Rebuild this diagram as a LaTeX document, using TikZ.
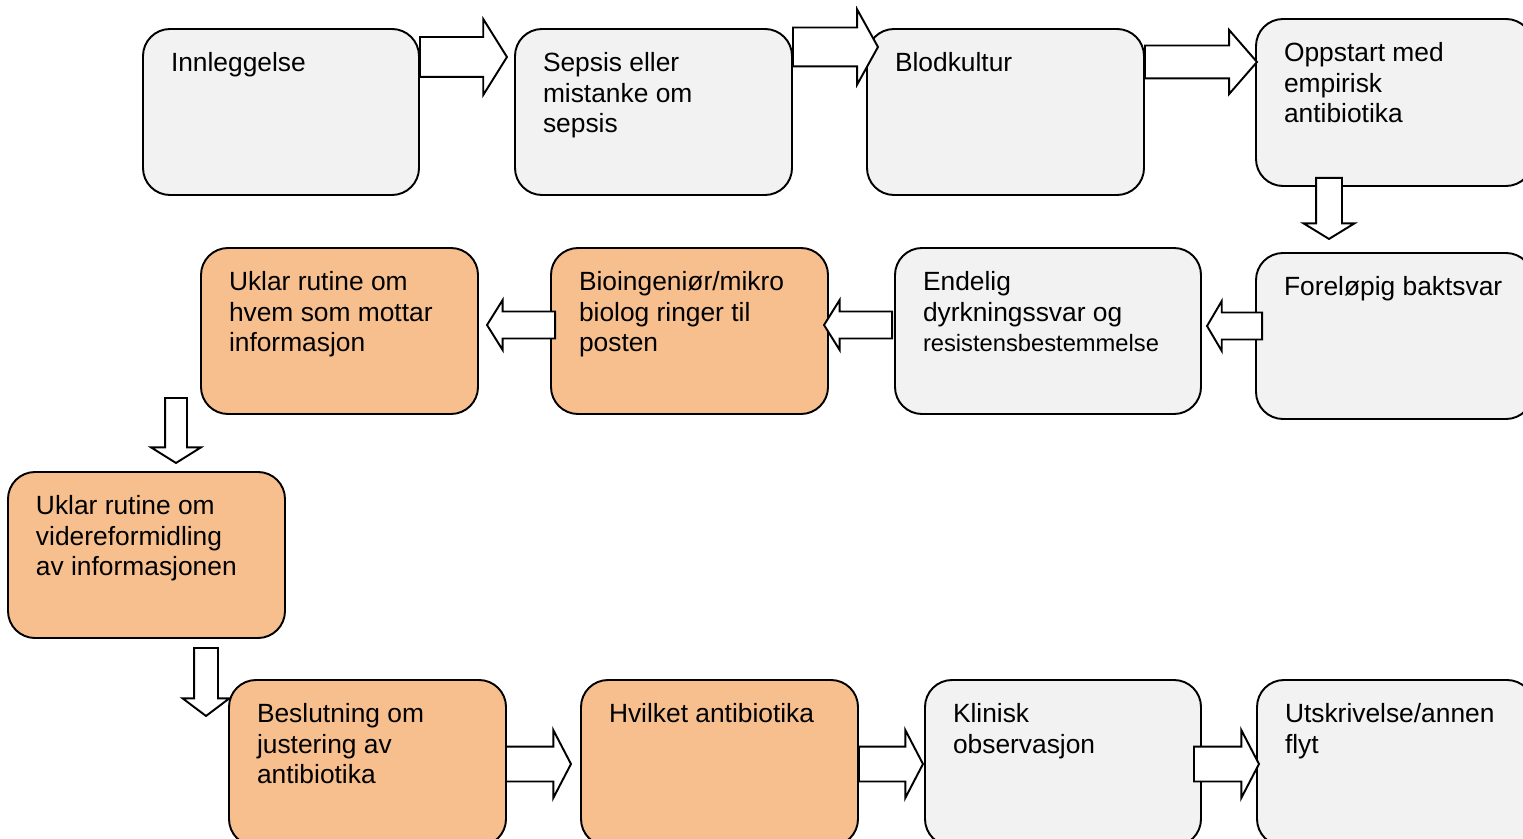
\documentclass[tikz,border=0pt]{standalone}
\usepackage{fontspec}
\setmainfont{Liberation Sans}
\usetikzlibrary{shapes.arrows,positioning}
\definecolor{boxgray}{HTML}{F2F2F2}
\definecolor{boxorange}{HTML}{F8BF8E}

\begin{document}
\begin{tikzpicture}[line width=1.1pt,
    stepbox/.style={draw, rounded corners=0.54cm, minimum width=5.54cm, minimum height=3.32cm, inner sep=0pt},
    greybox/.style={stepbox, fill=boxgray},
    orangebox/.style={stepbox, fill=boxorange},
    boxtext/.style={inner sep=0pt, align=left, font=\fontsize{15}{17.6}\selectfont},
    blockarrow/.style={draw, fill=white, single arrow, inner xsep=0pt, anchor=tail, line join=miter}]

        \useasboundingbox (0,0) rectangle (30.46,-16.78);
        \clip (0,0) rectangle (30.46,-16.78);

        % boxes
        \node (inn) [greybox, minimum width=5.52cm] at (5.62,-2.24) {};
        \node (sep) [greybox] at (13.07,-2.24) {};
        \node (blod) [greybox] at (20.11,-2.24) {};
        \node (opp) [greybox, minimum height=3.34cm] at (27.89,-2.05) {};
        \node (fore) [greybox] at (27.89,-6.72) {};
        \node (end) [greybox, minimum width=6.12cm] at (20.96,-6.62) {};
        \node (bio) [orangebox] at (13.79,-6.62) {};
        \node (uklhvem) [orangebox] at (6.79,-6.62) {};
        \node (uklvidere) [orangebox] at (2.93,-11.10) {};
        \node (besl) [orangebox] at (7.35,-15.26) {};
        \node (hvilket) [orangebox] at (14.39,-15.26) {};
        \node (klin) [greybox, minimum width=5.52cm] at (21.26,-15.26) {};
        \node (utskr) [greybox] at (27.91,-15.26) {};

        % texts
        \node (inntext) [boxtext, below right=0.46cm and 0.56cm of inn.north west] {Innleggelse};
        \node (septext) [boxtext, below right=0.46cm and 0.56cm of sep.north west] {Sepsis eller\\mistanke om\\sepsis};
        \node (blodtext) [boxtext, below right=0.46cm and 0.56cm of blod.north west] {Blodkultur};
        \node (opptext) [boxtext, below right=0.46cm and 0.56cm of opp.north west] {Oppstart med\\empirisk\\antibiotika};
        \node (foretext) [boxtext, below right=0.46cm and 0.56cm of fore.north west] {Foreløpig baktsvar};
        \node (endtext) [boxtext, below right=0.46cm and 0.56cm of end.north west] {Endelig\\dyrkningssvar og\\{\fontsize{13.5}{16}\selectfont resistensbestemmelse}};
        \node (biotext) [boxtext, below right=0.46cm and 0.56cm of bio.north west] {Bioingeniør/mikro\\biolog ringer til\\posten};
        \node (uklhvemtext) [boxtext, below right=0.46cm and 0.56cm of uklhvem.north west] {Uklar rutine om\\hvem som mottar\\informasjon};
        \node (uklvideretext) [boxtext, below right=0.46cm and 0.56cm of uklvidere.north west] {Uklar rutine om\\videreformidling\\av informasjonen};
        \node (besltext) [boxtext, below right=0.46cm and 0.56cm of besl.north west] {Beslutning om\\justering av\\antibiotika};
        \node (hvilkettext) [boxtext, below right=0.46cm and 0.56cm of hvilket.north west] {Hvilket antibiotika};
        \node (klintext) [boxtext, below right=0.46cm and 0.56cm of klin.north west] {Klinisk\\observasjon};
        \node (utskrtext) [boxtext, below right=0.46cm and 0.56cm of utskr.north west] {Utskrivelse/annen\\flyt};

        % block arrows
        \node (a1) [blockarrow, inner ysep=0.38cm, minimum height=1.74cm, single arrow head extend=0.36cm, single arrow tip angle=116] at (8.38,-1.14) {};
        \node (a2) [blockarrow, inner ysep=0.37cm, minimum height=1.70cm, single arrow head extend=0.36cm, single arrow tip angle=122] at (15.84,-0.94) {};
        \node (a3) [blockarrow, inner ysep=0.31cm, minimum height=2.24cm, single arrow head extend=0.31cm, single arrow tip angle=98] at (22.88,-1.24) {};
        \node (a4) [blockarrow, inner ysep=0.24cm, rotate=270, minimum height=1.22cm, single arrow head extend=0.25cm, single arrow tip angle=117] at (26.58,-3.54) {};
        \node (a5) [blockarrow, inner ysep=0.25cm, rotate=180, minimum height=1.10cm, single arrow head extend=0.23cm, single arrow tip angle=119] at (25.26,-6.52) {};
        \node (a6) [blockarrow, inner ysep=0.25cm, rotate=180, minimum height=1.36cm, single arrow head extend=0.23cm, single arrow tip angle=116] at (17.86,-6.50) {};
        \node (a7) [blockarrow, inner ysep=0.25cm, rotate=180, minimum height=1.36cm, single arrow head extend=0.23cm, single arrow tip angle=116] at (11.12,-6.50) {};
        \node (a8) [blockarrow, inner ysep=0.20cm, rotate=270, minimum height=1.30cm, single arrow head extend=0.28cm, single arrow tip angle=116] at (3.52,-7.94) {};
        \node (a9) [blockarrow, inner ysep=0.22cm, rotate=270, minimum height=1.36cm, single arrow head extend=0.23cm, single arrow tip angle=106] at (4.12,-12.94) {};
        \node (a10) [blockarrow, inner ysep=0.33cm, minimum height=1.30cm, single arrow head extend=0.33cm, single arrow tip angle=125] at (10.10,-15.28) {};
        \node (a11) [blockarrow, inner ysep=0.33cm, minimum height=1.28cm, single arrow head extend=0.33cm, single arrow tip angle=125] at (17.16,-15.28) {};
        \node (a12) [blockarrow, inner ysep=0.33cm, minimum height=1.30cm, single arrow head extend=0.33cm, single arrow tip angle=125] at (23.86,-15.28) {};
    \end{tikzpicture}
\end{document}
